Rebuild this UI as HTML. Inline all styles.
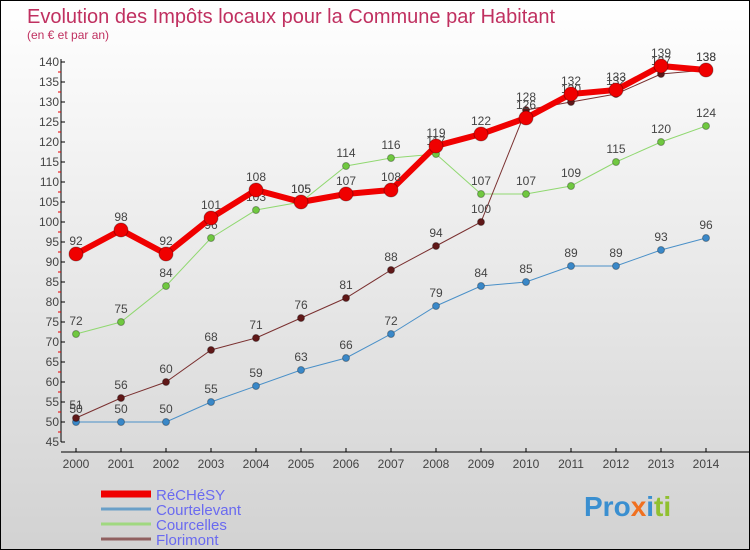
<!DOCTYPE html>
<html><head><meta charset="utf-8"><style>
body{margin:0}
#c{width:750px;height:550px;box-sizing:border-box;border:1px solid #000;background:linear-gradient(#fff,#d2d2d2);position:relative;font-family:"Liberation Sans",sans-serif}
</style></head><body>
<div id="c">
<svg id="s" width="748" height="548" style="position:absolute;left:0;top:0">
<text x="26" y="22" font-size="20" fill="#c03060">Evolution des Impôts locaux pour la Commune par Habitant</text>
<text x="26" y="38" font-size="12" fill="#c03060">(en € et par an)</text>
<g id="axes"></g><g id="series"></g><g id="legend"></g>
<text x="583" y="515" font-size="28" font-weight="bold"><tspan fill="#3a8fd0">Pro</tspan><tspan fill="#f07020">x</tspan><tspan fill="#3a8fd0">i</tspan><tspan fill="#90c030">ti</tspan></text>
</svg>
</div>
<script>
const years=[2000,2001,2002,2003,2004,2005,2006,2007,2008,2009,2010,2011,2012,2013,2014];
const yTicks=[45,50,55,60,65,70,75,80,85,90,95,100,105,110,115,120,125,130,135,140];
const rechesy=[92,98,92,101,108,105,107,108,119,122,126,132,133,139,138];
const courtelevant=[50,50,50,55,59,63,66,72,79,84,85,89,89,93,96];
const courcelles=[72,75,84,96,103,105,114,116,117,107,107,109,115,120,124];
const florimont=[51,56,60,68,71,76,81,88,94,100,128,130,132,137,138];
const seriesNames=["RéCHéSY","Courtelevant","Courcelles","Florimont"];
const NS="http://www.w3.org/2000/svg";
const X=i=>75+i*45, Y=v=>61+(140-v)*4;
function mk(t,a,p){const e=document.createElementNS(NS,t);for(const k in a)e.setAttribute(k,a[k]);p.appendChild(e);return e;}
const ax=document.getElementById('axes');
let l=mk('line',{x1:60,y1:58,x2:60,y2:441,stroke:'#000'},ax);


l=mk('line',{x1:60,y1:451,x2:748,y2:451,stroke:'#000'},ax);


yTicks.forEach(v=>{mk('line',{x1:60,y1:Y(v),x2:64,y2:Y(v),stroke:'#000'},ax);
 if(v<140)mk('line',{x1:57,y1:Y(v+2.5),x2:60,y2:Y(v+2.5),stroke:'#e00'},ax);
 const t=mk('text',{x:58,y:Y(v)+4,'font-size':12,'text-anchor':'end',fill:'#444'},ax);t.textContent=v;
 
 });
years.forEach((yr,i)=>{mk('line',{x1:X(i),y1:447,x2:X(i),y2:451,stroke:'#000'},ax);
 const t=mk('text',{x:X(i),y:467,'font-size':12,'text-anchor':'middle',fill:'#444'},ax);t.textContent=yr;
 
 });
const sg=document.getElementById('series');
const defs=[[courtelevant,'#4a90c8','#3a88c8',1,3.5,'courtelevant'],[courcelles,'#90d870','#70c840',1,3.5,'courcelles'],[florimont,'#7a3030','#601818',1,3.5,'florimont'],[rechesy,'#f00000','#f00000',6,7,'rechesy']];
defs.forEach(([d,lc,pc,w,r,n])=>{const g=mk('g',{},sg);
 
 
 mk('polyline',{points:d.map((v,i)=>X(i)+','+Y(v)).join(' '),fill:'none',stroke:lc,'stroke-width':w},g);
 d.forEach((v,i)=>{const c=mk('circle',{cx:X(i),cy:Y(v),r:r,fill:pc,stroke:'rgba(0,0,0,0.3)'},g);
  
  
  const t=mk('text',{x:X(i),y:Y(v)-9,'font-size':12,'text-anchor':'middle',fill:'#444'},g);t.textContent=v;});});
const lg=document.getElementById('legend');
const lc=['#f00000','#6aa0c8','#a0d880','#906060'],lw=[7,3,3,3];
seriesNames.forEach((n,i)=>{const y=493+i*15;
 const e=mk('line',{x1:100,y1:y,x2:150,y2:y,stroke:lc[i],'stroke-width':lw[i]},lg);
 
 
 const t=mk('text',{x:155,y:y+6,'font-size':15,fill:'#6a6af0'},lg);t.textContent=n;
 
 });
</script>
</body></html>
